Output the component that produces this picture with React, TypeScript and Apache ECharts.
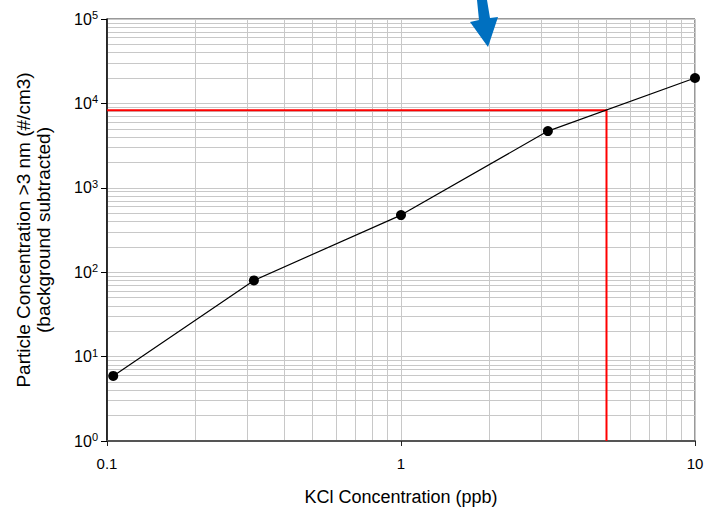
import React, { useEffect, useRef } from "react";
import * as echarts from "echarts";

// KCl concentration (ppb) and measured particle concentration (#/cm3)
const kclPpb = [0.105, 0.316, 1, 3.16, 10];
const particles = [5.9, 80, 475, 4700, 20000];

// Reference reading: 5 ppb maps to ~8.3e3 particles
const refX = 5;
const refY = 8300;

const xMin = 0.1;
const xMax = 10;
const yMin = 1;
const yMax = 100000;

const FONT = "Liberation Sans, Arial, sans-serif";

export default function App() {
  const ref = useRef<HTMLDivElement>(null);

  useEffect(() => {
    if (!ref.current) return;
    const chart = echarts.init(ref.current, undefined, { renderer: "svg" });

    const supDigits = (v: number) => Math.round(Math.log10(v));

    chart.setOption({
      animation: false,
      backgroundColor: "#ffffff",
      textStyle: { fontFamily: FONT },
      grid: {
        left: 107,
        right: 13,
        top: 19,
        bottom: 72,
        show: true,
        borderColor: "#333333",
        borderWidth: 1,
        backgroundColor: "transparent",
      },
      xAxis: {
        type: "log",
        logBase: 10,
        min: xMin,
        max: xMax,
        name: "KCl Concentration (ppb)",
        nameLocation: "middle",
        nameGap: 47,
        nameTextStyle: { fontSize: 18, color: "#000", fontFamily: FONT },
        axisLine: { show: true, lineStyle: { color: "#555555", width: 2 } },
        axisTick: { show: true, inside: false, length: 5, lineStyle: { color: "#222" } },
        axisLabel: {
          fontSize: 15,
          color: "#000",
          margin: 15,
          fontFamily: FONT,
          formatter: (v: number) => String(v),
        },
        splitLine: { show: true, lineStyle: { color: "#c8c8c8", width: 1 } },
        minorTick: { show: false, splitNumber: 9 },
        minorSplitLine: { show: true, lineStyle: { color: "#c8c8c8", width: 1 } },
      },
      yAxis: {
        type: "log",
        logBase: 10,
        min: yMin,
        max: yMax,
        name: "Particle Concentration >3 nm (#/cm3)\n(background subtracted)",
        nameLocation: "middle",
        nameGap: 54,
        nameRotate: 90,
        nameTextStyle: { fontSize: 19, color: "#000", fontFamily: FONT, lineHeight: 20 },
        axisLine: { show: true, lineStyle: { color: "#000", width: 1.5 } },
        axisTick: { show: true, inside: false, length: 6, lineStyle: { color: "#000" } },
        axisLabel: {
          color: "#000",
          margin: 9,
          fontFamily: FONT,
          formatter: (v: number) => `{b|10}{s|${supDigits(v)}}`,
          rich: {
            b: { fontSize: 16, fontFamily: FONT, color: "#000" },
            s: { fontSize: 11, fontFamily: FONT, color: "#000", verticalAlign: "top", padding: [0, 0, 8, 0] },
          },
        },
        splitLine: { show: true, lineStyle: { color: "#c8c8c8", width: 1 } },
        minorTick: { show: false, splitNumber: 9 },
        minorSplitLine: { show: true, lineStyle: { color: "#c8c8c8", width: 1 } },
      },
      series: [
        {
          type: "line",
          data: [
            [xMin, refY],
            [refX, refY],
            [refX, yMin],
          ],
          showSymbol: false,
          symbol: "none",
          lineStyle: { color: "#ff0000", width: 2 },
          z: 3,
        },
        {
          type: "line",
          data: kclPpb.map((x, i) => [x, particles[i]]),
          symbol: "circle",
          symbolSize: 10,
          itemStyle: { color: "#000" },
          lineStyle: { color: "#000", width: 1.2 },
          z: 4,
        },
      ],
      graphic: [
        {
          type: "polygon",
          z: 100,
          shape: {
            points: [
              [477, 0],
              [487, 0],
              [490, 18],
              [498, 17],
              [488, 47],
              [470, 22],
              [479, 20],
            ],
          },
          style: { fill: "#0070c0" },
        },
      ],
    });

    return () => chart.dispose();
  }, []);

  return (
    <div
      ref={ref}
      style={{ position: "fixed", left: 0, top: 0, width: 708, height: 513 }}
    />
  );
}
